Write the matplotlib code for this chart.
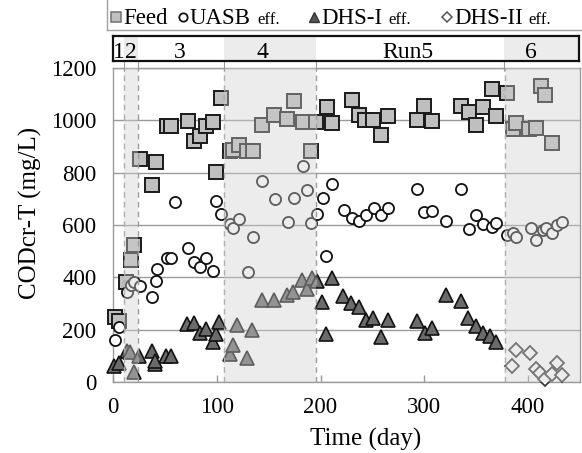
import numpy as np
import matplotlib
matplotlib.use('Agg')
import matplotlib.pyplot as plt

plt.rcParams['font.family'] = ['Liberation Serif', 'DejaVu Serif']

# run boundaries (day) and labels for the top strip
run_edges = [0, 11, 24, 107, 196, 378, 450]
run_labels = ['1', '2', '3', '4', 'Run5', '6']
shaded_runs = [1, 3, 5]

feed_day = [2, 6, 13, 17, 20, 26, 38, 41, 52, 56, 72, 78, 84, 90, 96, 99, 104,
            113, 116, 121, 129, 135, 144, 155, 168, 174, 183, 191, 196, 206, 211,
            230, 237, 243, 251, 258, 265, 293, 300, 307, 335, 343, 350, 357, 365,
            369, 380, 385, 388, 401, 408, 412, 416, 423]
feed_cod = [250, 232, 383, 467, 525, 852, 751, 839, 977, 977, 999, 922, 941, 977,
            992, 802, 1086, 884, 888, 907, 881, 884, 983, 1022, 1006, 1073, 994,
            884, 994, 1050, 990, 1077, 1022, 1000, 1000, 945, 1018, 1000, 1054,
            996, 1056, 1032, 983, 1051, 1120, 1018, 1105, 968, 990, 968, 971,
            1133, 1098, 913]

uasb_day = [2, 6, 13.5, 17, 20, 26, 38, 41.5, 42, 52, 56, 59.5, 72, 78.5, 84, 90,
            96.5, 99, 104, 113, 116, 121, 130, 135, 144, 156, 168.5, 174, 183, 187,
            191, 197, 202, 205.5, 211, 222.5, 230, 237, 244, 251.5, 258.5, 265,
            293, 300, 307, 321, 335, 343, 350, 357, 365, 369.5, 380, 385, 388,
            402.6, 408, 414, 417, 423, 428, 433]
uasb_cod = [162, 210, 344, 370, 383, 367, 323, 385, 430, 472, 472, 686, 511, 459,
            440, 472, 425, 693, 642, 604, 587, 622, 419, 553, 770, 700, 610, 702,
            826, 732, 609, 642, 702, 481, 757, 656, 626, 615, 638, 664, 638, 666,
            737, 651, 655, 615, 738, 585, 638, 604, 594, 609, 562, 571, 553, 587,
            543, 581, 587, 571, 600, 610]

dhs1_day = [0.7, 5.5, 13.5, 16.8, 20, 25.5, 37.6, 40.9, 40, 51.5, 56.3, 71.6, 77.8,
            83.6, 89.7, 96.2, 98.8, 102.6, 113, 115.5, 119.6, 129, 134.1, 143.7,
            155, 167.8, 173.3, 181.7, 187.1, 191.4, 196.8, 201.6, 205.5, 211.3,
            221.6, 229, 237, 244, 250.5, 258, 265, 292.5, 300.4, 307, 320.6, 335,
            342.5, 349.6, 356.6, 363.4, 368.9]
dhs1_cod = [63, 72, 118, 114, 38, 98, 118, 67, 82, 98, 98, 223, 225, 187, 204, 153,
            185, 229, 108, 140, 217, 93, 200, 312, 312, 332, 344, 389, 357, 396,
            387, 306, 182, 396, 330, 302, 287, 236, 245, 172, 238, 232, 187, 208,
            334, 310, 245, 213, 187, 176, 153]

dhs2_day = [384.5, 388, 401.6, 408, 411, 416.4, 423, 428.3, 433]
dhs2_cod = [63, 121, 110, 51, 34, 12, 29, 72, 25]

W, H = 582, 453
fig = plt.figure(figsize=(W / 100, H / 100), dpi=100)


def px_box(x0, y0, x1, y1):
    return [x0 / W, 1 - y1 / H, (x1 - x0) / W, (y1 - y0) / H]


ax = fig.add_axes(px_box(113, 68, 580, 382))
strip = fig.add_axes(px_box(113, 36, 579, 61))
lax = fig.add_axes(px_box(107, -10, 620, 30))

# ---- main panel
ax.plot(feed_day, feed_cod, 's', ms=10.5, mfc='#bfbfbf', mec='#1a1a1a', mew=1.4,
        zorder=3, clip_on=False)
ax.plot(uasb_day, uasb_cod, 'o', ms=8, mfc='white', mec='#111111', mew=1.3,
        zorder=3, clip_on=False)
ax.plot(dhs1_day, dhs1_cod, '^', ms=9.5, mfc='#6b6b6b', mec='#111111', mew=1.2,
        zorder=3, clip_on=False)
ax.plot(dhs2_day, dhs2_cod, 'D', ms=7.5, mfc='white', mec='#3a3a3a', mew=1.3,
        zorder=3, clip_on=False)

for i in shaded_runs:
    ax.axvspan(run_edges[i], run_edges[i + 1], facecolor='#d0d0d0', alpha=0.4,
               lw=0, zorder=5)
    strip.axvspan(run_edges[i], run_edges[i + 1], facecolor='#ececec', lw=0,
                  zorder=0)
for e in run_edges[1:-1]:
    ax.axvline(e, color='#9a9a9a', lw=1, ls=(0, (4, 3)), zorder=4)

ax.set_xlim(0, 450)
ax.set_ylim(0, 1200)
ax.set_xticks([0, 100, 200, 300, 400])
ax.set_yticks(np.arange(0, 1201, 200))
ax.yaxis.grid(True, color='#9a9a9a', lw=1)
ax.set_axisbelow(True)
for s in ax.spines.values():
    s.set_color('#9a9a9a')
    s.set_linewidth(1)
ax.tick_params(axis='x', direction='in', length=5, width=1, color='#9a9a9a',
               labelsize=16.5, pad=11, top=False)
ax.tick_params(axis='y', length=0, labelsize=16.5, pad=12)
ax.set_xlabel('Time (day)', fontsize=18)
ax.xaxis.set_label_coords(0.542, -0.145)
ax.set_ylabel('CODcr-T (mg/L)', fontsize=18)
ax.yaxis.set_label_coords(-0.152, 0.538)

# ---- run strip
strip.set_xlim(0, 450)
strip.set_ylim(0, 1)
strip.set_yticks([])
strip.set_xticks(run_edges[1:-1])
strip.tick_params(axis='x', direction='out', length=7, color='#9a9a9a',
                  labelbottom=False)
for s in strip.spines.values():
    s.set_color('#111111')
    s.set_linewidth(1.6)
strip_label_x = [5.5, 17.5, 64, 144, 285, 404]
for lx, lab in zip(strip_label_x, run_labels):
    strip.text(lx, 0.13, lab, ha='center', va='baseline', fontsize=17, zorder=3)

# ---- legend row
lax.set_xlim(107, 620)
lax.set_ylim(30, -10)
lax.set_xticks([])
lax.set_yticks([])
for s in lax.spines.values():
    s.set_color('#a0a0a0')
    s.set_linewidth(1)

entries = [
    (116, 123, 's', dict(ms=7, mfc='#bfbfbf', mec='#7a7a7a', mew=1.2), 'Feed', ''),
    (183, 190, 'o', dict(ms=6, mfc='white', mec='#111111', mew=1.3), 'UASB', 'eff.'),
    (314, 321, '^', dict(ms=7, mfc='#555555', mec='#333333', mew=1), 'DHS-I', 'eff.'),
    (447, 454, 'D', dict(ms=5.5, mfc='white', mec='#555555', mew=1.1), 'DHS-II', 'eff.'),
]
fig.canvas.draw()
renderer = fig.canvas.get_renderer()
for mx, tx, mk, style, lab, small in entries:
    lax.plot([mx], [17], mk, **style)
    t = lax.text(tx, 23.5, lab, ha='left', va='baseline', fontsize=16.5)
    if small:
        bb = t.get_window_extent(renderer=renderer)
        x_after = lax.transData.inverted().transform((bb.x1 + 6, bb.y0))[0]
        lax.text(x_after, 23.5, small, ha='left', va='baseline', fontsize=12)

fig.savefig('out.png', dpi=100)
